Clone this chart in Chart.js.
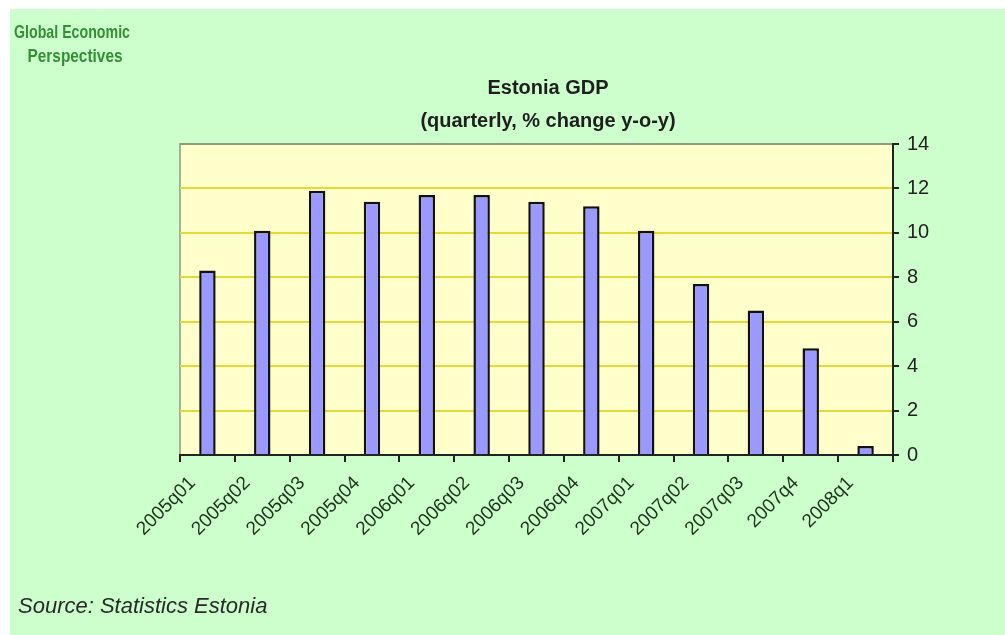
<!DOCTYPE html>
<html>
<head>
<meta charset="utf-8">
<title>Estonia GDP</title>
<script src="https://cdn.jsdelivr.net/npm/chart.js@4.4.1/dist/chart.umd.min.js"></script>
<style>
  html, body { margin: 0; padding: 0; background: #ffffff; }
  #wrap { width: 1005px; height: 635px; position: relative; }
</style>
</head>
<body>
<div id="wrap"><canvas id="gdpChart" width="1005" height="635"></canvas></div>
<script>
const quarters = ['2005q01', '2005q02', '2005q03', '2005q04', '2006q01', '2006q02', '2006q03',
                  '2006q04', '2007q01', '2007q02', '2007q03', '2007q4', '2008q1'];
const gdpGrowth = [8.3, 10.1, 11.9, 11.4, 11.7, 11.7, 11.4, 11.2, 10.1, 7.7, 6.5, 4.8, 0.4];
const yTicks = [0, 2, 4, 6, 8, 10, 12, 14];

// squeeze a text horizontally so it fits a given width (the logo uses a narrow face)
function narrowText(ctx, text, cx, cy, width) {
    const w = ctx.measureText(text).width;
    ctx.save();
    ctx.translate(cx, cy);
    ctx.scale(width / w, 1);
    ctx.fillText(text, 0, 0);
    ctx.restore();
}

// page frame, plot background and the header/footer texts
const decorations = {
    id: 'decorations',
    beforeDraw(chart) {
        const ctx = chart.ctx;
        const area = chart.chartArea;
        ctx.save();
        ctx.fillStyle = '#ffffff';
        ctx.fillRect(0, 0, chart.width, chart.height);
        ctx.fillStyle = '#ccffcc';
        ctx.fillRect(10, 9, chart.width - 10, chart.height - 9);
        ctx.fillStyle = '#ffffcc';
        ctx.fillRect(area.left, area.top, area.right - area.left, area.bottom - area.top);
        ctx.strokeStyle = '#8c9c80';
        ctx.lineWidth = 1.5;
        ctx.beginPath();
        ctx.moveTo(area.left, area.bottom);
        ctx.lineTo(area.left, area.top);
        ctx.lineTo(area.right, area.top);
        ctx.stroke();
        ctx.restore();
    },
    afterDraw(chart) {
        const ctx = chart.ctx;
        ctx.save();
        ctx.textBaseline = 'middle';
        ctx.textAlign = 'center';
        ctx.fillStyle = '#358f35';
        ctx.font = 'bold 19px "Liberation Sans", Arial, sans-serif';
        narrowText(ctx, 'Global Economic', 72, 33, 116);
        narrowText(ctx, 'Perspectives', 75, 57, 95);

        ctx.fillStyle = '#1e1e1e';
        ctx.font = 'bold 20px "Liberation Sans", Arial, sans-serif';
        ctx.fillText('Estonia GDP', 548, 88);
        ctx.fillText('(quarterly, % change y-o-y)', 548, 121);

        ctx.textAlign = 'left';
        ctx.fillStyle = '#2a2a2a';
        ctx.font = 'italic 22px "Liberation Sans", Arial, sans-serif';
        ctx.fillText('Source: Statistics Estonia', 18, 607);
        ctx.restore();
    }
};

const ctx = document.getElementById('gdpChart').getContext('2d');
new Chart(ctx, {
    type: 'bar',
    data: {
        labels: quarters,
        datasets: [{
            label: 'GDP',
            data: gdpGrowth,
            backgroundColor: '#9999ff',
            borderColor: '#111111',
            borderWidth: 2.5,
            barPercentage: 0.3,
            categoryPercentage: 1.0
        }]
    },
    options: {
        responsive: false,
        animation: false,
        layout: { padding: { left: 180, top: 144, right: 0, bottom: 0 } },
        plugins: {
            legend: { display: false },
            tooltip: { enabled: false }
        },
        scales: {
            x: {
                afterFit(scale) { scale.height = 180; },
                border: { color: '#222222', width: 2 },
                grid: {
                    offset: true,
                    drawOnChartArea: false,
                    drawTicks: true,
                    tickLength: 7,
                    tickColor: '#222222',
                    lineWidth: 2
                },
                ticks: {
                    minRotation: 45,
                    maxRotation: 45,
                    autoSkip: false,
                    labelOffset: -15,
                    padding: 10,
                    color: '#1c331c',
                    font: { family: '"Liberation Sans", Arial, sans-serif', size: 19 }
                }
            },
            y: {
                position: 'right',
                min: 0,
                max: 14,
                afterFit(scale) { scale.width = 112; },
                afterBuildTicks(scale) { scale.ticks = yTicks.map(v => ({ value: v })); },
                border: { color: '#222222', width: 2 },
                grid: {
                    color: c => (c.tick && c.tick.value === 14) ? '#8c9c80' : '#e3da3a',
                    lineWidth: 2,
                    tickLength: 6,
                    tickColor: '#222222'
                },
                ticks: {
                    padding: 8,
                    color: '#222222',
                    font: { family: '"Liberation Sans", Arial, sans-serif', size: 20 }
                }
            }
        }
    },
    plugins: [decorations]
});
</script>
</body>
</html>
